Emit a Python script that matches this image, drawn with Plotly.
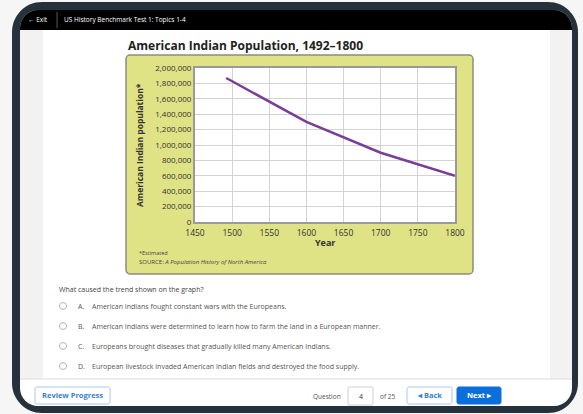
import plotly.graph_objects as go

# ---- data ----
years = [1492, 1600, 1700, 1800]
population = [1870000, 1300000, 900000, 600000]
x_ticks = [1450, 1500, 1550, 1600, 1650, 1700, 1750, 1800]
y_ticks = [0, 200000, 400000, 600000, 800000, 1000000, 1200000, 1400000,
           1600000, 1800000, 2000000]
title_text = "American Indian Population, 1492\u20131800"
question = "What caused the trend shown on the graph?"
option_letters = ["A.", "B.", "C.", "D."]
options = [
    "American Indians fought constant wars with the Europeans.",
    "American Indians were determined to learn how to farm the land in a European manner.",
    "Europeans brought diseases that gradually killed many American Indians.",
    "European livestock invaded American Indian fields and destroyed the food supply.",
]

# ---- geometry helpers (pixel -> paper) ----
WID, HEI = 583, 414
L, T, R, B = 195, 68, 455, 222
PW, PH = R - L, B - T


def fx(x):
    return (x - L) / PW


def fy(y):
    return (B - y) / PH


def pt(x, y):
    return f"{fx(x):.5f},{fy(y):.5f}"


def rrect(x0, y0, x1, y1, r=(0, 0, 0, 0)):
    # r = (top-left, top-right, bottom-right, bottom-left)
    k = 0.5523
    tl, tr, br, bl = r
    p = f"M{pt(x0 + tl, y0)} L{pt(x1 - tr, y0)} "
    if tr:
        p += f"C{pt(x1 - tr + tr * k, y0)} {pt(x1, y0 + tr - tr * k)} {pt(x1, y0 + tr)} "
    p += f"L{pt(x1, y1 - br)} "
    if br:
        p += f"C{pt(x1, y1 - br + br * k)} {pt(x1 - br + br * k, y1)} {pt(x1 - br, y1)} "
    p += f"L{pt(x0 + bl, y1)} "
    if bl:
        p += f"C{pt(x0 + bl - bl * k, y1)} {pt(x0, y1 - bl + bl * k)} {pt(x0, y1 - bl)} "
    p += f"L{pt(x0, y0 + tl)} "
    if tl:
        p += f"C{pt(x0, y0 + tl - tl * k)} {pt(x0 + tl - tl * k, y0)} {pt(x0 + tl, y0)} "
    return p + "Z"


shapes = []


def add_path(path, fill, line_color=None, lw=0, layer="below"):
    shapes.append(dict(type="path", path=path, xref="paper", yref="paper",
                       fillcolor=fill, layer=layer,
                       line=dict(color=line_color or fill, width=lw)))


def add_rect(x0, y0, x1, y1, fill, line_color=None, lw=0, r=0, layer="below"):
    add_path(rrect(x0, y0, x1, y1, (r, r, r, r)), fill, line_color, lw, layer)


def add_line(x0, y0, x1, y1, color, lw=1, layer="below"):
    shapes.append(dict(type="line", xref="paper", yref="paper",
                       x0=fx(x0), y0=fy(y0), x1=fx(x1), y1=fy(y1),
                       line=dict(color=color, width=lw), layer=layer))


def add_circle(cx, cy, rad, color):
    shapes.append(dict(type="circle", xref="paper", yref="paper",
                       x0=fx(cx - rad), x1=fx(cx + rad), y0=fy(cy + rad), y1=fy(cy - rad),
                       fillcolor="white", line=dict(color=color, width=1), layer="below"))


annotations = []
UI = "Open Sans"


def ann(text, x, y, size, color="#333", xanchor="left", yanchor="middle",
        family=UI, angle=0, bold=False):
    if bold:
        text = f"<b>{text}</b>"
    annotations.append(dict(text=text, x=fx(x), y=fy(y), xref="paper", yref="paper",
                            showarrow=False, xanchor=xanchor, yanchor=yanchor,
                            textangle=angle, font=dict(size=size, color=color, family=family)))


# device frame
add_path(rrect(12, 2, 578, 413, (30, 30, 30, 30)), "#25323b")
add_path(rrect(20, 10, 572, 406, (18, 18, 18, 18)), "#ffffff")
add_path(rrect(20, 10, 572, 30, (18, 18, 0, 0)), "#000000")
# side strips
add_rect(20, 30, 43, 379, "#f2f2f3")
add_rect(550, 30, 572, 379, "#f2f2f3")
add_line(20, 379, 572, 379, "#dcdcdc", 1)
# header
ann("<b>\u2190</b> Exit", 26, 20, 6.5, "#ffffff")
add_line(57, 12, 57, 28, "#555555", 1)
ann("US History Benchmark Test 1: Topics 1-4", 62, 20, 6.5, "#ffffff")

# chart panel
add_rect(126, 55, 473, 274, "#dfe285", "#8d8c7e", 1.5, r=4)
add_rect(L, T, R, B, "#ffffff")
ann(title_text, 126, 45, 12, "#222222", bold=True)
ann("American Indian population*", 139, (T + B) / 2, 8.5, "#333333",
    xanchor="center", angle=-90, bold=True)
ann("Year", (L + R) / 2, 242, 9, "#333333", xanchor="center", bold=True)
ann("*Estimated", 137, 253, 5.5, "#444444")
ann("SOURCE: <i>A Population History of North America</i>", 137, 262, 6, "#444444")

# question
ann(question, 57, 289, 7, "#444444")
opt_y = [306, 326, 346, 366]
for letter, text, yy in zip(option_letters, options, opt_y):
    add_circle(63, yy, 3.5, "#b5b5b5")
    ann(letter, 76, yy, 7, "#555555")
    ann(text, 90, yy, 7, "#555555")

# footer
add_rect(35, 387, 110, 404, "#ffffff", "#a8c8ee", 1, r=2)
ann("Review Progress", 72.5, 395.5, 7.5, "#3a7fd0", xanchor="center", bold=True)
ann("Question", 343, 396, 6.5, "#555555", xanchor="right")
add_rect(348, 387, 373, 405, "#ffffff", "#cfcfcf", 1, r=1)
ann("4", 360.5, 396, 7, "#333333", xanchor="center")
ann("of 25", 378, 396, 6.5, "#555555")
add_rect(407, 387, 452, 404, "#ffffff", "#a8c8ee", 1, r=2)
ann("\u25C2 Back", 429.5, 395.5, 7.5, "#3a7fd0", xanchor="center", bold=True)
add_rect(457, 387, 501, 404, "#0b6fdb", "#0b6fdb", 1, r=2)
ann("Next \u25B8", 479, 395.5, 7.5, "#ffffff", xanchor="center", bold=True)

fig = go.Figure()
fig.add_trace(go.Scatter(x=years, y=population, mode="lines",
                         line=dict(color="#7a3d98", width=2.5),
                         hoverinfo="skip", showlegend=False))

fig.update_layout(
    width=WID, height=HEI, autosize=False,
    margin=dict(l=L, r=WID - R, t=T, b=HEI - B, pad=0),
    paper_bgcolor="#f6f6f6", plot_bgcolor="#ffffff",
    shapes=shapes, annotations=annotations,
    showlegend=False,
    xaxis=dict(range=[1450, 1800], tickvals=x_ticks, ticktext=[str(v) for v in x_ticks],
               showgrid=True, gridcolor="#d3d3d3", gridwidth=1, zeroline=False,
               showline=True, linecolor="#9a9a9a", linewidth=2, mirror=True,
               ticks="", ticklabelstandoff=2,
               tickfont=dict(size=8.5, color="#333333", family=UI)),
    yaxis=dict(range=[0, 2000000], tickvals=y_ticks, tickformat=",d",
               showgrid=True, gridcolor="#d3d3d3", gridwidth=1, zeroline=False,
               showline=True, linecolor="#9a9a9a", linewidth=2, mirror=True,
               ticks="", tickfont=dict(size=8, color="#333333", family=UI)),
)

fig.write_html("out.html", config={"displayModeBar": False},
               post_script="document.body.style.margin='0px';document.body.style.overflow='hidden';")
